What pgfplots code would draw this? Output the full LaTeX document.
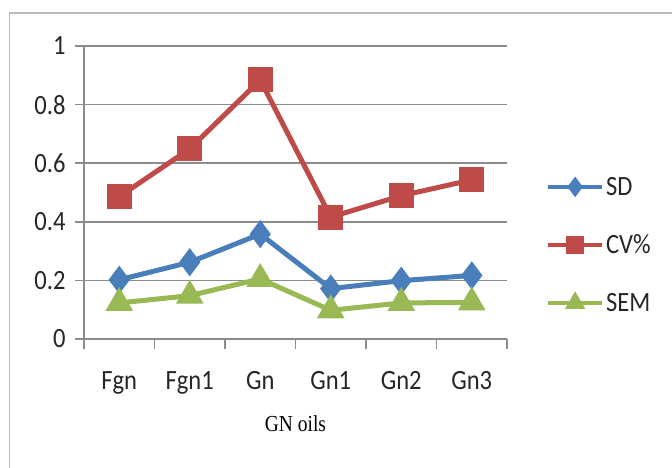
\documentclass[border=0pt]{standalone}
\usepackage{fontspec}
\setmainfont{Carlito}[FakeStretch=0.88]
\newfontfamily\seriffont{Liberation Serif}[FakeStretch=0.85]
\usepackage{pgfplots}
\pgfplotsset{compat=1.18}
\definecolor{sdblue}{HTML}{4A7EBB}
\definecolor{cvred}{HTML}{BE4B48}
\definecolor{semgreen}{HTML}{98B954}
\definecolor{gridgray}{HTML}{8C8C8C}
\begin{document}
\begin{tikzpicture}[x=1bp,y=1bp]
\useasboundingbox (-84,-129) rectangle (588,339);
\draw[gridgray!60, line width=1.5bp] (-74.6,-140) -- (-74.6,326) -- (600,326);
\begin{axis}[
  at={(0,0)}, anchor=south west,
  width=423bp, height=293bp, scale only axis,
  xmin=-0.5, xmax=5.5, ymin=0, ymax=1,
  axis x line=bottom, axis y line=left,
  axis line style={-, gridgray, line width=1.5bp},
  xtick={0,1,2,3,4,5}, xticklabels={Fgn,Fgn1,Gn,Gn1,Gn2,Gn3},
  minor xtick={-0.5,0.5,1.5,2.5,3.5,4.5,5.5},
  major x tick style={draw=none},
  minor x tick style={gridgray, line width=1.5bp},
  minor tick length=10bp,
  major tick length=9bp,
  tick align=outside,
  ytick={0,0.2,0.4,0.6,0.8,1}, yticklabels={0,0.2,0.4,0.6,0.8,1},
  y tick style={gridgray, line width=1.5bp},
  ymajorgrids, grid style={gridgray, line width=1.5bp},
  tick label style={font=\fontsize{28}{32}\selectfont, text=black!85},
  yticklabel style={xshift=-6bp},
  xticklabel style={yshift=-20bp},
  xlabel={\seriffont GN oils}, xlabel style={font=\fontsize{23}{26}\selectfont, text=black, yshift=-14bp},
  legend style={at={(1.092,0.56)}, anchor=north west, draw=none, fill=none,
    font=\fontsize{28}{32}\selectfont, text=black!85, row sep=34bp, inner sep=0pt},
  legend cell align=left,
  legend image code/.code={\draw[mark repeat=2,mark phase=2,#1,line width=4bp,every mark/.append style={scale=0.7}] plot coordinates {(0bp,0bp) (27bp,0bp) (54bp,0bp)};},
  every axis plot/.append style={line width=5bp},
]
\addplot[color=sdblue, mark=diamond*, mark size=10bp, mark options={solid}] coordinates {
 (0,0.202) (1,0.262) (2,0.358) (3,0.172) (4,0.199) (5,0.217)};
\addlegendentry{SD}
\addplot[color=cvred, mark=square*, mark size=10bp] coordinates {
 (0,0.486) (1,0.649) (2,0.884) (3,0.416) (4,0.489) (5,0.543)};
\addlegendentry{CV\%}
\addplot[color=semgreen, mark=triangle*, mark size=11bp] coordinates {
 (0,0.123) (1,0.148) (2,0.205) (3,0.098) (4,0.123) (5,0.125)};
\addlegendentry{SEM}
\end{axis}
\end{tikzpicture}
\end{document}
